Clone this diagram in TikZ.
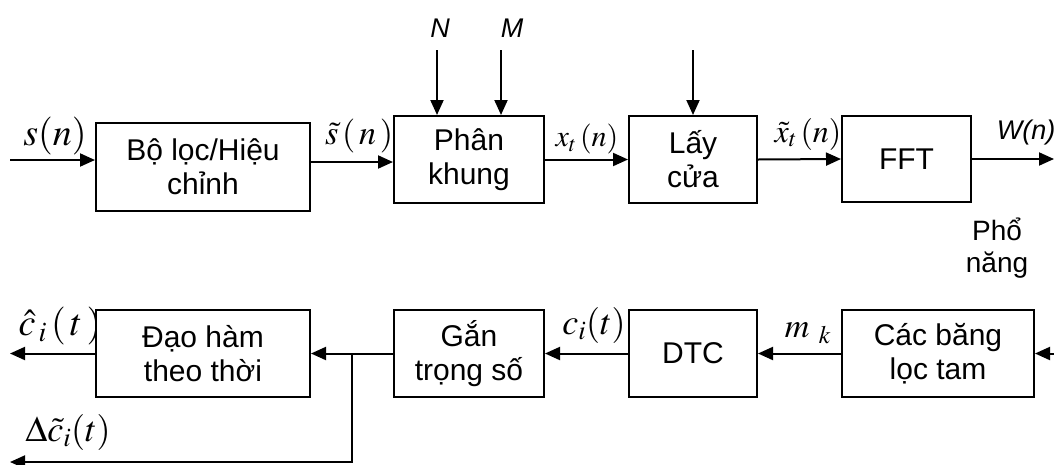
\documentclass[tikz,border=0pt]{standalone}
\usepackage{mathptmx}
\usepackage[no-math]{fontspec}
\setmainfont{Liberation Sans}
\usetikzlibrary{arrows.meta,positioning}

\begin{document}
\begin{tikzpicture}[x=1pt,y=-1pt]

\tikzset{blockbox/.style={draw,line width=2pt,fill=white,align=center,inner sep=0pt,
  font=\fontsize{30}{34}\selectfont},
arr/.style={line width=2pt,-{Triangle[length=15pt,width=13pt]}},
sig/.style={inner sep=0pt,font=\fontsize{32}{34}\selectfont},
bigsig/.style={inner sep=0pt,font=\fontsize{38}{40}\selectfont}}

\useasboundingbox (0,0) rectangle (1054,464);

% Signal labels (drawn first, the boxes may cover them)
\node[bigsig] (lsn) at (55,136) {$s(n)$};
\node[sig,font=\fontsize{34}{36}\selectfont] (lst) at (359,136) {$\tilde{s}\,(\,n\,)$};
\node[sig,font=\fontsize{30}{32}\selectfont] (lxt) at (587,139) {$x_t\,(n)$};
\node[sig] (lxw) at (808,134) {$\tilde{x}_t\,(n)$};
\node[sig,font=\fontsize{27}{28}\selectfont\itshape] (lwn) at (1026,133) {W(n)};
\node[sig,font=\fontsize{27}{28}\selectfont\itshape] (lN) at (440,28) {N};
\node[sig,font=\fontsize{27}{28}\selectfont\itshape] (lM) at (512,28) {M};
\node[align=center,inner sep=0pt,font=\fontsize{28}{32}\selectfont] (lps) at (997,248) {Phổ\\năng};
\node[bigsig] (lch) at (60,326) {$\hat{c}_{\,i}\,(\,t\,)$};
\node[bigsig,font=\fontsize{36}{38}\selectfont] (lci) at (594,325) {$c_i(t)$};
\node[sig,font=\fontsize{34}{36}\selectfont] (lmk) at (808,333) {$m_{\ k}$};
\node[bigsig,font=\fontsize{36}{38}\selectfont] (ldc) at (68,432) {$\Delta\tilde{c}_i(t)$};

% Top row blocks
\node[blockbox,minimum width=214pt,minimum height=88pt] (filt) at (203,167) {Bộ lọc/Hiệu\\chỉnh};
\node[blockbox,minimum width=150pt,minimum height=87pt] (frame) at (469,159.5) {Phân\\khung};
\node[blockbox,minimum width=128pt,minimum height=87pt] (win) at (693,159.5) {Lấy\\cửa};
\node[blockbox,minimum width=129pt,minimum height=86pt] (fft) at (906.5,159) {FFT};

% Bottom row blocks
\node[blockbox,minimum width=192pt,minimum height=87pt] (mel) at (938,353.5) {Các băng\\lọc tam};
\node[blockbox,minimum width=128pt,minimum height=87pt] (dtc) at (693,353.5) {DTC};
\node[blockbox,minimum width=150pt,minimum height=87pt] (wgt) at (469,353.5) {Gắn\\trọng số};
\node[blockbox,minimum width=214pt,minimum height=87pt] (der) at (203,353.5) {Đạo hàm\\theo thời};

% Free ends
\coordinate (in) at (10,160);
\coordinate (f1) at ([yshift=5pt]filt.east);
\coordinate (out) at (1054,159);
\coordinate (nN) at (437,50);
\coordinate (nM) at (501,50);
\coordinate (nW) at (693,50);
\coordinate (in2) at (1054,353.5);
\coordinate (j) at (352,353.5);
\coordinate (jd) at (352,462);
\coordinate (outc) at (10,353.5);
\coordinate (outd) at (10,462);

% Top row connectors
\draw[arr] (in) -- (in -| filt.west);
\draw[arr] (f1) -- (f1 -| frame.west);
\draw[arr] (frame.east) -- (win.west);
\draw[arr] (win.east) -- (fft.west);
\draw[arr] (fft.east) -- (out);
\foreach \c/\b in {nN/frame,nM/frame,nW/win} \draw[arr] (\c) -- (\c |- \b.north);

% Bottom row connectors
\draw[arr] (in2) -- (mel.east);
\draw[arr] (mel.west) -- (dtc.east);
\draw[arr] (dtc.west) -- (wgt.east);
\draw[arr] (wgt.west) -- (der.east);
\draw[arr] (der.west) -- (outc);
\draw[arr] (j) -- (jd) -- (outd);

\end{tikzpicture}
\end{document}
